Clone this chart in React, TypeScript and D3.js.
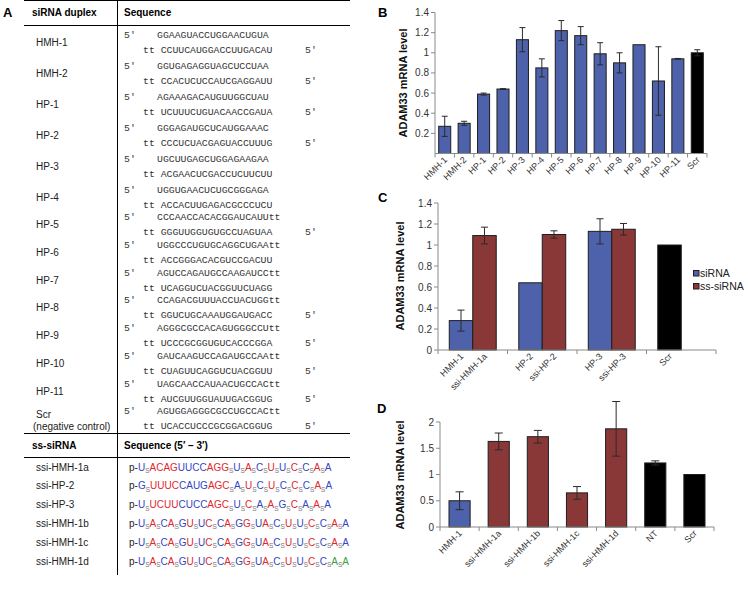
import React from "react";
import * as d3 from "d3";

const SANS = "'Liberation Sans', Arial, Helvetica, sans-serif";
const MONO = "'Liberation Mono', 'Courier New', monospace";

// ---------- Panel A data ----------
const duplexNames = ["HMH-1", "HMH-2", "HP-1", "HP-2", "HP-3", "HP-4", "HP-5", "HP-6", "HP-7", "HP-8", "HP-9", "HP-10", "HP-11", "Scr"];
const senseStrands = [
  "GGAAGUACCUGGAACUGUA",
  "GGUGAGAGGUAGCUCCUAA",
  "AGAAAGACAUGUUGGCUAU",
  "GGGAGAUGCUCAUGGAAAC",
  "UGCUUGAGCUGGAGAAGAA",
  "UGGUGAACUCUGCGGGAGA",
  "CCCAACCACACGGAUCAUUtt",
  "UGGCCCUGUGCAGGCUGAAtt",
  "AGUCCAGAUGCCAAGAUCCtt",
  "CCAGACGUUUACCUACUGGtt",
  "AGGGCGCCACAGUGGGCCUtt",
  "GAUCAAGUCCAGAUGCCAAtt",
  "UAGCAACCAUAACUGCCACtt",
  "AGUGGAGGGCGCCUGCCACtt",
];
const antisenseStrands = [
  "CCUUCAUGGACCUUGACAU",
  "CCACUCUCCAUCGAGGAUU",
  "UCUUUCUGUACAACCGAUA",
  "CCCUCUACGAGUACCUUUG",
  "ACGAACUCGACCUCUUCUU",
  "ACCACUUGAGACGCCCUCU",
  "GGGUUGGUGUGCCUAGUAA",
  "ACCGGGACACGUCCGACUU",
  "UCAGGUCUACGGUUCUAGG",
  "GGUCUGCAAAUGGAUGACC",
  "UCCCGCGGUGUCACCCGGA",
  "CUAGUUCAGGUCUACGGUU",
  "AUCGUUGGUAUUGACGGUG",
  "UCACCUCCCGCGGACGGUG",
];
const antisenseMarked = [true, true, true, true, false, false, true, false, false, true, true, true, true, true];

const ssNames = ["ssi-HMH-1a", "ssi-HP-2", "ssi-HP-3", "ssi-HMH-1b", "ssi-HMH-1c", "ssi-HMH-1d"];
const ssSeqs = [
  "UACAGUUCCAGGUACUUCCAA",
  "GUUUCCAUGAGCAUCUCCCAA",
  "UUCUUCUCCAGCUCAAGCAAA",
  "UACAGUUCCAGGUACUUCCAA",
  "UACAGUUCCAGGUACUUCCAA",
  "UACAGUUCCAGGUACUUCCAA",
];
// modification code per nucleotide: F = 2'-F, M = 2'-OMe, E = other
const ssMods = [
  "FMMMMFFFFMMMFMFMFMFMF",
  "FMMMMFFFFMMMFMFMFMFMF",
  "FMMMMFFFFMMMFMFMFMFMF",
  "FMFMFMFMFMFMFMFMFMFMF",
  "FMFMFMFMFMFMFMFMFMFMF",
  "FMFMFMFMFMFMFMFMFMFEE",
];
const psLinksBlock = [1, 12, 13, 14, 15, 16, 17, 18, 19, 20];
const psLinksAlt = [1, 2, 4, 6, 8, 10, 12, 14, 15, 16, 17, 18, 19, 20];
const ssLinks = [psLinksBlock, psLinksBlock, psLinksBlock, psLinksAlt, psLinksAlt, psLinksAlt];

// ---------- Panel B data ----------
const bCategories = ["HMH-1", "HMH-2", "HP-1", "HP-2", "HP-3", "HP-4", "HP-5", "HP-6", "HP-7", "HP-8", "HP-9", "HP-10", "HP-11", "Scr"];
const bMeans = [0.27, 0.3, 0.59, 0.64, 1.13, 0.85, 1.22, 1.17, 0.99, 0.9, 1.08, 0.72, 0.94, 1.0];
const bErrors = [0.1, 0.02, 0.01, 0.004, 0.12, 0.09, 0.1, 0.09, 0.11, 0.1, 0, 0.34, 0.004, 0.03];
const bTicks = [0.2, 0.4, 0.6, 0.8, 1, 1.2, 1.4];

// ---------- Panel C data ----------
const cGroups = ["HMH-1", "HP-2", "HP-3", "Scr"];
const cSiLabels = ["HMH-1", "HP-2", "HP-3", "Scr"];
const cSsLabels = ["ssi-HMH-1a", "ssi-HP-2", "ssi-HP-3", ""];
const cSiMeans = [0.28, 0.64, 1.13, 1.0];
const cSiErrors = [0.1, 0, 0.12, 0];
const cSsMeans = [1.09, 1.1, 1.15, null];
const cSsErrors = [0.08, 0.035, 0.055, 0];
const cTicks = [0, 0.2, 0.4, 0.6, 0.8, 1, 1.2, 1.4];
const cLegend = ["siRNA", "ss-siRNA"];

// ---------- Panel D data ----------
const dCategories = ["HMH-1", "ssi-HMH-1a", "ssi-HMH-1b", "ssi-HMH-1c", "ssi-HMH-1d", "NT", "Scr"];
const dMeans = [0.5, 1.63, 1.72, 0.65, 1.87, 1.22, 1.0];
const dErrors = [0.17, 0.16, 0.12, 0.12, 0.52, 0.04, 0];
const dTicks = [0, 0.5, 1, 1.5, 2];

const AXIS = "#8a8a8a";
const BLUE = "#4e62ab";
const RED = "#8a3837";
const BLACK = "#000000";
const BAR_STROKE = "#1e1e1e";
const MOD_COLORS: Record<string, string> = { F: "#3146c4", M: "#e3262b", E: "#3a9e3c" };

const fmt = (v: number) => String(+v.toFixed(1));

function YAxis({ scale, x, ticks }: any) {
  const [y0, y1] = scale.range();
  return (
    <g>
      <line x1={x} x2={x} y1={y0} y2={y1} stroke={AXIS} strokeWidth={1} />
      {ticks.map((t: number) => (
        <g key={t}>
          <line x1={x - 4} x2={x} y1={scale(t)} y2={scale(t)} stroke={AXIS} />
          <text x={x - 6} y={scale(t)} dy="0.35em" textAnchor="end" fontSize={10} fill="#333">
            {fmt(t)}
          </text>
        </g>
      ))}
    </g>
  );
}

function XAxis({ x0, x1, y, tickXs }: any) {
  return (
    <g>
      <line x1={x0} x2={x1} y1={y} y2={y} stroke={AXIS} />
      {tickXs.map((tx: number, i: number) => (
        <line key={i} x1={tx} x2={tx} y1={y} y2={y + 4} stroke={AXIS} />
      ))}
    </g>
  );
}

function ErrBar({ cx, yScale, v, e, cap }: any) {
  if (!e) return null;
  const yt = yScale(v + e);
  const yb = yScale(v - e);
  return (
    <g stroke="#2a2a2a" strokeWidth={1}>
      <line x1={cx} x2={cx} y1={yt} y2={yb} />
      <line x1={cx - cap / 2} x2={cx + cap / 2} y1={yt} y2={yt} />
      <line x1={cx - cap / 2} x2={cx + cap / 2} y1={yb} y2={yb} />
    </g>
  );
}

function RotLabel({ x, y, text }: any) {
  return (
    <text transform={`translate(${x},${y}) rotate(-45)`} textAnchor="end" fontSize={9} fill="#333">
      {text}
    </text>
  );
}

function YTitle({ x, y }: any) {
  return (
    <text transform={`translate(${x},${y}) rotate(-90)`} textAnchor="middle" fontSize={11} fontWeight="bold" fill="#111">
      ADAM33 mRNA level
    </text>
  );
}

function SsSequence({ x, y, seq, mods, links }: any) {
  const parts: any[] = [<tspan key="p" fill="#222">p-</tspan>];
  let shifted = false;
  for (let i = 0; i < seq.length; i++) {
    parts.push(
      <tspan key={"n" + i} fill={MOD_COLORS[mods[i]]} dy={shifted ? -2.5 : 0}>
        {seq[i]}
      </tspan>
    );
    shifted = false;
    if (links.includes(i + 1)) {
      parts.push(
        <tspan key={"s" + i} fill="#777" fontSize={6.5} dy={2.5}>
          S
        </tspan>
      );
      shifted = true;
    }
  }
  return (
    <text x={x} y={y} fontSize={10}>
      {parts}
    </text>
  );
}

function PanelA() {
  const rowY = d3.scaleLinear().domain([0, 5, 12]).range([42, 197, 391]);
  const ssY = d3.scaleLinear().domain([0, 5]).range([467, 561]);
  const left = 24;
  const right = 350;
  const div = 117.5;
  return (
    <g>
      <text x={3} y={17} fontSize={13} fontWeight="bold">A</text>
      <line x1={left} x2={right} y1={0.5} y2={0.5} stroke="#000" />
      <line x1={left} x2={right} y1={25.5} y2={25.5} stroke="#000" />
      <line x1={left} x2={right} y1={433.5} y2={433.5} stroke="#000" />
      <line x1={left} x2={right} y1={457.5} y2={457.5} stroke="#000" />
      <line x1={div} x2={div} y1={0} y2={575} stroke="#000" />
      <text x={32} y={16} fontSize={10} fontWeight="bold">siRNA duplex</text>
      <text x={124} y={16} fontSize={10} fontWeight="bold">Sequence</text>
      {duplexNames.map((name, i) => {
        const cy = rowY(i);
        return (
          <g key={name}>
            {name === "Scr" ? (
              <g>
                <text x={36} y={cy - 0.5} fontSize={10} fill="#222">Scr</text>
                <text x={33} y={cy + 11} fontSize={10} fill="#222">(negative control)</text>
              </g>
            ) : (
              <text x={36} y={cy + 3.5} fontSize={10} fill="#222">{name}</text>
            )}
            <g fontFamily={MONO} fontSize={9.8} fill="#333">
              <text x={124} y={cy - 4.5}>5′</text>
              <text x={157} y={cy - 4.5}>{senseStrands[i]}</text>
              <text x={143} y={cy + 10.5} xmlSpace="preserve">{"tt " + antisenseStrands[i]}</text>
              {antisenseMarked[i] && <text x={305} y={cy + 10.5}>5′</text>}
            </g>
          </g>
        );
      })}
      <text x={32} y={449} fontSize={10} fontWeight="bold">ss-siRNA</text>
      <text x={124} y={449} fontSize={10} fontWeight="bold">Sequence (5′ – 3′)</text>
      {ssNames.map((name, i) => (
        <g key={name}>
          <text x={36} y={ssY(i) + 3.5} fontSize={10} fill="#222">{name}</text>
          <SsSequence x={129} y={ssY(i) + 3.5} seq={ssSeqs[i]} mods={ssMods[i]} links={ssLinks[i]} />
        </g>
      ))}
    </g>
  );
}

function PanelB() {
  const y = d3.scaleLinear().domain([0, 1.4]).range([153.5, 12.5]);
  const x = d3.scaleBand<string>().domain(bCategories).range([435, 707]).paddingInner(0.38).paddingOuter(0.19);
  const step = x.step();
  const x0 = 435;
  const tickXs = d3.range(bCategories.length + 1).map((i) => x0 + i * step);
  return (
    <g>
      <text x={378} y={17} fontSize={13} fontWeight="bold">B</text>
      <YTitle x={407} y={83} />
      {bCategories.map((c, i) => {
        const bx = x(c)!;
        const v = bMeans[i];
        return (
          <g key={c}>
            <rect x={bx} y={y(v)} width={x.bandwidth()} height={y(0) - y(v)} fill={c === "Scr" ? BLACK : BLUE} stroke={BAR_STROKE} strokeWidth={1} />
            <ErrBar cx={bx + x.bandwidth() / 2} yScale={y} v={v} e={bErrors[i]} cap={6} />
            <RotLabel x={bx + x.bandwidth() / 2 + 3} y={y(0) + 7} text={c} />
          </g>
        );
      })}
      <XAxis x0={x0} x1={707} y={y(0)} tickXs={tickXs} />
      <YAxis scale={y} x={x0} ticks={bTicks} />
    </g>
  );
}

function PanelC() {
  const y = d3.scaleLinear().domain([0, 1.4]).range([350, 203]);
  const g = d3.scaleBand<string>().domain(cGroups).range([438, 716]);
  const inner = d3.scaleBand<number>().domain([0, 1]).range([0, g.bandwidth()]).paddingInner(0).paddingOuter(0.48);
  const tickXs = d3.range(cGroups.length + 1).map((i) => 438 + i * g.step());
  return (
    <g>
      <text x={378} y={202} fontSize={13} fontWeight="bold">C</text>
      <YTitle x={404} y={276} />
      {cGroups.map((grp, i) => {
        const gx = g(grp)!;
        const w = inner.bandwidth();
        const sx = gx + inner(0)!;
        const rx = gx + inner(1)!;
        const sv = cSiMeans[i];
        const rv = cSsMeans[i];
        return (
          <g key={grp}>
            <rect x={sx} y={y(sv)} width={w} height={y(0) - y(sv)} fill={grp === "Scr" ? BLACK : BLUE} stroke={BAR_STROKE} />
            <ErrBar cx={sx + w / 2} yScale={y} v={sv} e={cSiErrors[i]} cap={7} />
            <RotLabel x={sx + w / 2 + 3} y={y(0) + 7} text={cSiLabels[i]} />
            {rv != null && (
              <g>
                <rect x={rx} y={y(rv)} width={w} height={y(0) - y(rv)} fill={RED} stroke={BAR_STROKE} />
                <ErrBar cx={rx + w / 2} yScale={y} v={rv} e={cSsErrors[i]} cap={7} />
                <RotLabel x={rx + w / 2 + 3} y={y(0) + 7} text={cSsLabels[i]} />
              </g>
            )}
          </g>
        );
      })}
      <XAxis x0={438} x1={716} y={y(0)} tickXs={tickXs} />
      <YAxis scale={y} x={438} ticks={cTicks} />
      {cLegend.map((l, i) => (
        <g key={l}>
          <rect x={693.5} y={270.5 + i * 13} width={5.5} height={5.5} fill={i === 0 ? BLUE : RED} stroke={BAR_STROKE} />
          <text x={700} y={277 + i * 13} fontSize={10.5} fill="#222">{l}</text>
        </g>
      ))}
    </g>
  );
}

function PanelD() {
  const y = d3.scaleLinear().domain([0, 2]).range([527, 422]);
  const x = d3.scaleBand<string>().domain(dCategories).range([440, 714]).paddingInner(0.46).paddingOuter(0.23);
  const tickXs = d3.range(dCategories.length + 1).map((i) => 440 + i * x.step());
  const colorOf = (c: string) => (c.startsWith("ssi") ? RED : c === "NT" || c === "Scr" ? BLACK : BLUE);
  return (
    <g>
      <text x={377} y={413} fontSize={13} fontWeight="bold">D</text>
      <YTitle x={404} y={475} />
      {dCategories.map((c, i) => {
        const bx = x(c)!;
        const v = dMeans[i];
        return (
          <g key={c}>
            <rect x={bx} y={y(v)} width={x.bandwidth()} height={y(0) - y(v)} fill={colorOf(c)} stroke={BAR_STROKE} />
            <ErrBar cx={bx + x.bandwidth() / 2} yScale={y} v={v} e={dErrors[i]} cap={8} />
            <RotLabel x={bx + x.bandwidth() / 2 + 3} y={y(0) + 7} text={c} />
          </g>
        );
      })}
      <XAxis x0={440} x1={714} y={y(0)} tickXs={tickXs} />
      <YAxis scale={y} x={440} ticks={dTicks} />
    </g>
  );
}

export default function App() {
  return (
    <svg
      width={748}
      height={589}
      viewBox="0 0 748 589"
      style={{ position: "absolute", left: 0, top: 0, background: "#fff" }}
      fontFamily={SANS}
    >
      <rect width={748} height={589} fill="#fff" />
      <PanelA />
      <PanelB />
      <PanelC />
      <PanelD />
    </svg>
  );
}
